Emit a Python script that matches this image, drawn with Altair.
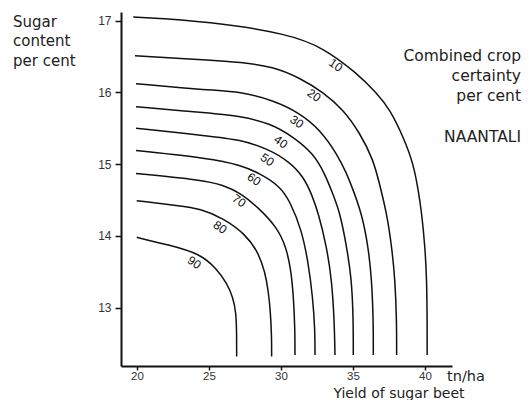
import altair as alt
import pandas as pd

# ---- data ----
levels = [10, 20, 30, 40, 50, 60, 70, 80, 90]

yield_10 = [19.74, 25.07, 30.63, 32.94, 35.26, 36.65, 37.57, 38.49, 39.19, 39.53, 39.77, 40.00, 40.12, 40.15, 40.15]
sugar_10 = [17.05, 16.99, 16.81, 16.62, 16.27, 15.99, 15.76, 15.38, 15.01, 14.64, 14.32, 13.85, 13.39, 12.83, 12.34]

yield_20 = [19.86, 25.07, 27.15, 29.47, 31.32, 32.94, 34.33, 35.49, 36.41, 36.81, 37.34, 37.69, 37.92, 38.03, 38.03]
sugar_20 = [16.51, 16.45, 16.42, 16.36, 16.20, 16.00, 15.76, 15.43, 15.06, 14.75, 14.32, 13.85, 13.39, 12.83, 12.34]

yield_30 = [19.93, 25.07, 27.15, 29.47, 31.32, 32.71, 33.87, 34.56, 34.93, 35.60, 36.06, 36.30, 36.41, 36.41]
sugar_30 = [16.12, 16.03, 16.01, 15.89, 15.71, 15.48, 15.15, 14.87, 14.68, 14.32, 13.85, 13.39, 12.83, 12.34]

yield_40 = [19.93, 25.07, 27.15, 29.24, 30.85, 32.24, 33.06, 33.61, 34.10, 34.56, 34.91, 35.02, 35.02]
sugar_40 = [15.80, 15.71, 15.67, 15.57, 15.38, 15.15, 14.86, 14.58, 14.32, 13.85, 13.39, 12.83, 12.34]

yield_50 = [19.93, 25.07, 27.15, 29.01, 30.63, 31.60, 32.15, 32.59, 33.17, 33.52, 33.70, 33.75]
sugar_50 = [15.50, 15.39, 15.34, 15.22, 15.03, 14.81, 14.57, 14.32, 13.85, 13.39, 12.83, 12.34]

yield_60 = [19.93, 25.07, 27.15, 28.54, 29.93, 30.63, 31.44, 31.90, 32.20, 32.36, 32.36]
sugar_60 = [15.19, 15.08, 14.99, 14.87, 14.69, 14.48, 14.08, 13.62, 13.15, 12.69, 12.34]

yield_70 = [19.93, 24.49, 25.99, 27.15, 28.40, 29.72, 30.35, 30.69, 30.87, 30.97, 30.97]
sugar_70 = [14.87, 14.78, 14.71, 14.60, 14.40, 14.12, 13.85, 13.53, 13.15, 12.69, 12.34]

yield_80 = [19.98, 22.99, 24.38, 25.97, 27.50, 28.40, 28.89, 29.13, 29.27, 29.35, 29.35]
sugar_80 = [14.49, 14.42, 14.38, 14.25, 14.03, 13.78, 13.50, 13.22, 12.93, 12.60, 12.32]

yield_90 = [19.98, 22.29, 24.38, 25.49, 26.25, 26.67, 26.88, 26.92, 26.92]
sugar_90 = [13.98, 13.87, 13.75, 13.55, 13.34, 13.14, 12.93, 12.65, 12.32]

label_yield = [33.80, 32.29, 31.09, 29.98, 29.05, 28.13, 27.08, 25.76, 23.98]
label_sugar = [16.38, 15.96, 15.59, 15.31, 15.06, 14.79, 14.49, 14.12, 13.63]

x_ticks = [20, 25, 30, 35, 40]
y_ticks = [13, 14, 15, 16, 17]

# ---- tables ----
curve_yields = [yield_10, yield_20, yield_30, yield_40, yield_50, yield_60, yield_70, yield_80, yield_90]
curve_sugars = [sugar_10, sugar_20, sugar_30, sugar_40, sugar_50, sugar_60, sugar_70, sugar_80, sugar_90]
rows = []
for lvl, xs, ys in zip(levels, curve_yields, curve_sugars):
    for i, (xv, yv) in enumerate(zip(xs, ys)):
        rows.append({"level": lvl, "idx": i, "yield": xv, "sugar": yv})
df = pd.DataFrame(rows)
lab = pd.DataFrame({"yield": label_yield, "sugar": label_sugar, "label": [str(v) for v in levels]})

FONT = "DejaVu Sans"
TICKFONT = "Liberation Sans"

xscale = alt.Scale(domain=[18.889, 41.875], nice=False, zero=False)
yscale = alt.Scale(domain=[12.187, 17.12], nice=False, zero=False)

xaxis = alt.Axis(values=x_ticks, format="d", title=None, grid=False, domainColor="#111", domainWidth=2,
                 tickColor="#111", tickSize=4, tickWidth=1.5, labelFont=TICKFONT, labelFontSize=11.5,
                 labelColor="#333", labelPadding=0)
yaxis = alt.Axis(values=y_ticks, format="d", title=None, grid=False, domainColor="#111", domainWidth=2,
                 tickColor="#111", tickSize=6, tickWidth=1.5, labelFont=TICKFONT, labelFontSize=12,
                 labelColor="#333", labelPadding=4)

lines = alt.Chart(df).mark_line(interpolate="basis", color="#111", strokeWidth=1.5).encode(
    x=alt.X("yield:Q", scale=xscale, axis=xaxis),
    y=alt.Y("sugar:Q", scale=yscale, axis=yaxis),
    detail="level:N",
    order="idx:Q",
)

labels = alt.Chart(lab).mark_text(angle=35, font=TICKFONT, fontSize=12, color="#111").encode(
    x=alt.X("yield:Q", scale=xscale),
    y=alt.Y("sugar:Q", scale=yscale),
    text="label:N",
)

one = pd.DataFrame({"a": [0]})

def note(text, x, y, align, size=15, lh=20):
    return alt.Chart(one).mark_text(align=align, baseline="alphabetic", font=FONT, fontSize=size,
                                    lineHeight=lh, color="#222").encode(
        x=alt.value(x), y=alt.value(y), text=alt.value(text))

ytitle = note(["Sugar", "content", "per cent"], -108, 14.7, "left", 15, 19.5)
legend_t = note(["Combined crop", "certainty", "per cent"], 400, 48.7, "right", 15.5, 20)
place = note("NAANTALI", 400, 129.7, "right", 15.5)
unit = note("tn/ha", 326, 369, "left", 14.5)
xtitle = note("Yield of sugar beet", 278, 386, "center", 14)

chart = alt.layer(lines, labels, ytitle, legend_t, place, unit, xtitle).properties(
    width=331, height=354,
    autosize=alt.AutoSizeParams(type="none"),
    padding={"left": 113, "top": 4, "right": 69, "bottom": 34},
).configure_view(stroke=None)

chart.save("out.html", embed_options={"renderer": "svg", "actions": False})
